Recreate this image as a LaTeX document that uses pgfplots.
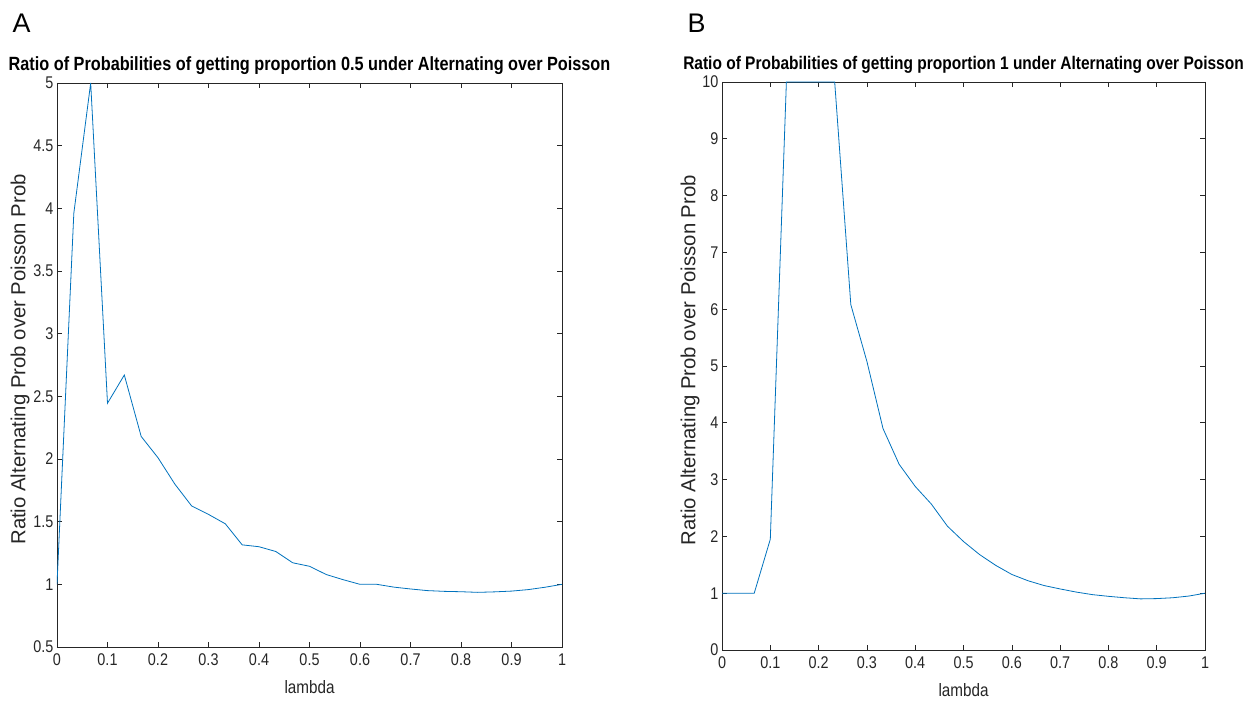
\documentclass[border=0pt]{standalone}
\usepackage{pgfplots}
\pgfplotsset{compat=1.18}
\usepackage{fontspec}
\setmainfont{Liberation Sans}
\newfontfamily\condensed[FakeStretch=0.85]{Liberation Sans}

\definecolor{mblue}{rgb}{0,0.447,0.741}
\definecolor{mgray}{rgb}{0.15,0.15,0.15}

\pgfplotsset{
  mstyle/.style={
    scale only axis,
    anchor=south west,
    xmin=0, xmax=1,
    xtick={0,0.1,0.2,0.3,0.4,0.5,0.6,0.7,0.8,0.9,1},
    tick align=inside,
    major tick length=5bp,
    axis line style={mgray, line width=0.6bp},
    tick style={mgray, line width=0.6bp},
    ticklabel style={font=\condensed\fontsize{17}{20}\selectfont, text=mgray},
    xticklabel style={yshift=-3bp},
    /pgf/number format/assume math mode=true,
    /pgf/number format/fixed,
    title style={font=\condensed\bfseries\fontsize{19.2}{22}\selectfont,
      at={(axis description cs:0.5,1)}, anchor=base, yshift=7bp},
    xlabel style={font=\condensed\fontsize{18}{21}\selectfont, text=mgray,
      at={(axis description cs:0.5,0)}, anchor=center, yshift=-40bp},
    ylabel style={font=\fontsize{20.4}{24}\selectfont, text=mgray, anchor=center},
  }
}

\begin{document}
\begin{tikzpicture}
\path[use as bounding box] (0,0) rectangle (1255bp,703bp);

\node[anchor=base west, font=\fontsize{27}{30}\selectfont] at (9bp,670bp) {A};
\node[anchor=base west, font=\fontsize{27}{30}\selectfont] at (684bp,670bp) {B};

% panel A
\begin{axis}[mstyle,
  at={(57bp,56bp)}, width=505bp, height=564bp,
  ymin=0.5, ymax=5,
  ytick={0.5,1,1.5,2,2.5,3,3.5,4,4.5,5},
  yticklabels={0.5,1,1.5,2,2.5,3,3.5,4,4.5,5},
  title={Ratio of Probabilities of getting proportion 0.5 under Alternating over Poisson},
  xlabel={lambda},
  ylabel={Ratio Alternating Prob over Poisson Prob},
  ylabel style={at={(axis description cs:-0.073,0.51)}},
]
\addplot[mblue, line width=0.8bp] coordinates {
(0,1.0) (0.0333,3.96) (0.0667,5.0) (0.1,2.445) (0.1333,2.67) (0.1667,2.18)
(0.2,2.01) (0.2333,1.80) (0.2667,1.625) (0.3,1.558) (0.3333,1.483) (0.3667,1.315)
(0.4,1.30) (0.4333,1.262) (0.4667,1.172) (0.5,1.144) (0.5333,1.078) (0.5667,1.037)
(0.6,1.0) (0.6333,1.0) (0.6667,0.978) (0.7,0.963) (0.7333,0.95) (0.7667,0.944)
(0.8,0.941) (0.8333,0.936) (0.8667,0.94) (0.9,0.946) (0.9333,0.958) (0.9667,0.977)
(1,1.0)
};
\end{axis}

% panel B
\begin{axis}[mstyle,
  at={(722bp,53bp)}, width=483bp, height=568bp,
  ymin=0, ymax=10,
  ytick={0,1,2,3,4,5,6,7,8,9,10},
  title={Ratio of Probabilities of getting proportion 1 under Alternating over Poisson},
  title style={font=\condensed\bfseries\fontsize{18.3}{21}\selectfont},
  xlabel={lambda},
  ylabel={Ratio Alternating Prob over Poisson Prob},
  ylabel style={at={(axis description cs:-0.066,0.51)}},
]
\addplot[mblue, line width=0.8bp] coordinates {
(0,1) (0.0333,1) (0.0667,1) (0.1,1.95) (0.1333,10) (0.1667,10)
(0.2,10) (0.2333,10) (0.2667,6.08) (0.3,5.08) (0.3333,3.9) (0.3667,3.27)
(0.4,2.88) (0.4333,2.57) (0.4667,2.18) (0.5,1.91) (0.5333,1.68) (0.5667,1.49)
(0.6,1.33) (0.6333,1.22) (0.6667,1.135) (0.7,1.075) (0.7333,1.02) (0.7667,0.975)
(0.8,0.945) (0.8333,0.92) (0.8667,0.90) (0.9,0.905) (0.9333,0.92) (0.9667,0.95)
(1,1.0)
};
\end{axis}
\end{tikzpicture}
\end{document}
